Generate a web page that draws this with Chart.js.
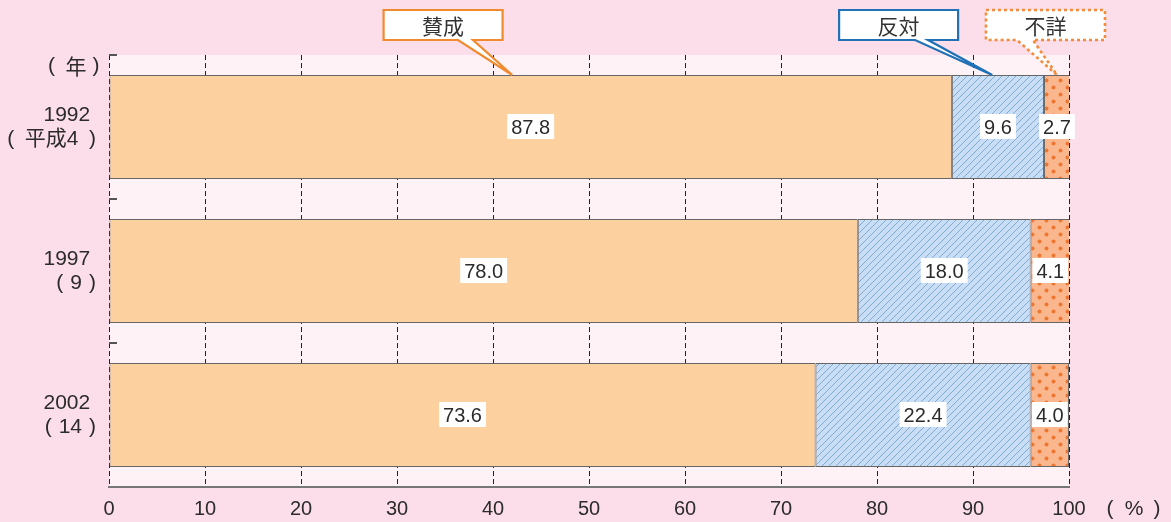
<!DOCTYPE html>
<html>
<head>
<meta charset="utf-8">
<script src="https://cdn.jsdelivr.net/npm/chart.js@4/dist/chart.umd.min.js"></script>
<style>
  html, body { margin: 0; padding: 0; background: #FCDEEA; }
  #wrap { width: 1171px; height: 522px; }
</style>
</head>
<body>
<div id="wrap"><canvas id="c" width="1171" height="522"></canvas></div>
<script>
// Survey years (Western year + Japanese era year)
const years = ['1992', '1997', '2002'];
const eraYears = ['(\u2002平成4\u2002)', '(\u20049\u2004)', '(\u200414\u2004)'];
// Share of answers (%)
const approve = [87.8, 78.0, 73.6];   // 賛成
const oppose = [9.6, 18.0, 22.4];     // 反対
const unknown = [2.7, 4.1, 4.0];      // 不詳
const xTicks = [0, 10, 20, 30, 40, 50, 60, 70, 80, 90, 100];
const seriesNames = ['賛成', '反対', '不詳'];

const FONT_NUM = '"Liberation Sans", Arial, "Noto Sans CJK JP", sans-serif';
const FONT_JP = '"Noto Sans CJK JP", "Noto Sans", sans-serif';
const TEXT = '#2b2b2b';

function hatchPattern() {
  const s = 7;
  const c = document.createElement('canvas');
  c.width = s; c.height = s;
  const g = c.getContext('2d');
  g.fillStyle = '#C9DEF4';
  g.fillRect(0, 0, s, s);
  g.strokeStyle = '#7EACDA';
  g.lineWidth = 1;
  g.beginPath();
  g.moveTo(-1, s + 1); g.lineTo(s + 1, -1);
  g.moveTo(-1, 1); g.lineTo(1, -1);
  g.moveTo(s - 1, s + 1); g.lineTo(s + 1, s - 1);
  g.stroke();
  return g.createPattern(c, 'repeat');
}

function dotPattern() {
  const s = 14;
  const c = document.createElement('canvas');
  c.width = s; c.height = s;
  const g = c.getContext('2d');
  g.fillStyle = '#FAB68D';
  g.fillRect(0, 0, s, s);
  g.fillStyle = '#EF7630';
  [[3.5, 3.5], [10.5, 10.5]].forEach(([x, y]) => {
    g.beginPath(); g.arc(x, y, 2, 0, Math.PI * 2); g.fill();
  });
  return g.createPattern(c, 'repeat');
}

// Light panel behind the plotting area
const panelBg = {
  id: 'panelBg',
  beforeDraw(chart) {
    const { ctx, chartArea: a } = chart;
    ctx.save();
    ctx.fillStyle = '#FEF2F6';
    ctx.fillRect(a.left, a.top, a.right - a.left, a.bottom - a.top);
    ctx.restore();
  }
};

// Draws a caption as spaced-out pieces centred at the given offsets
function spaced(ctx, parts, x0, y) {
  parts.forEach(([t, dx]) => ctx.fillText(t, x0 + dx, y));
}

// Short marks on the category axis between year groups, plus unit captions
const axisExtras = {
  id: 'axisExtras',
  afterDraw(chart) {
    const { ctx, chartArea: a, scales } = chart;
    const y = scales.y;
    const half = (y.getPixelForValue(1) - y.getPixelForValue(0)) / 2;
    ctx.save();
    ctx.strokeStyle = '#555';
    ctx.lineWidth = 2;
    for (let i = 0; i < years.length; i++) {
      const yy = Math.round(y.getPixelForValue(i) - half);
      ctx.beginPath();
      ctx.moveTo(a.left, yy); ctx.lineTo(a.left + 8, yy);
      ctx.stroke();
    }
    ctx.fillStyle = TEXT;
    ctx.textBaseline = 'middle';
    ctx.textAlign = 'center';
    ctx.font = '21px ' + FONT_NUM;
    spaced(ctx, [['(', -57.5], [')', -13]], a.left, a.top + 11);
    spaced(ctx, [['(', 41], ['%', 65], [')', 88]], a.right, a.bottom + 22);
    ctx.font = '21px ' + FONT_JP;
    spaced(ctx, [['年', -33]], a.left, a.top + 11);
    ctx.restore();
  }
};

// Value labels on white boxes at the middle of each segment
const valueLabels = {
  id: 'valueLabels',
  afterDatasetsDraw(chart) {
    const { ctx } = chart;
    ctx.save();
    ctx.font = '20px ' + FONT_NUM;
    ctx.textAlign = 'center';
    ctx.textBaseline = 'middle';
    chart.data.datasets.forEach((ds, di) => {
      chart.getDatasetMeta(di).data.forEach((bar, i) => {
        const txt = ds.data[i].toFixed(1);
        const cx = (bar.x + bar.base) / 2;
        const w = ctx.measureText(txt).width + 8;
        ctx.fillStyle = '#fff';
        ctx.fillRect(cx - w / 2, bar.y - 13, w, 25);
        ctx.fillStyle = TEXT;
        ctx.fillText(txt, cx, bar.y + 1);
      });
    });
    ctx.restore();
  }
};

// Series callouts above the first bar; box centre, pointer base offsets and tip in axis units
const callouts = [
  { name: seriesNames[0], center: 34.8, base: [15, 30], tip: 42.0, color: '#EF8A2E', dotted: false },
  { name: seriesNames[1], center: 82.25, base: [16.5, 29.5], tip: 92.0, color: '#2071B6', dotted: false },
  { name: seriesNames[2], center: 97.55, base: [-28.5, -12.5], tip: 98.75, color: '#F28C3A', dotted: true }
];
const calloutLabels = {
  id: 'calloutLabels',
  afterDraw(chart) {
    const { ctx, chartArea: a, scales } = chart;
    const bar = chart.getDatasetMeta(0).data[0];
    const tipY = bar.y - bar.height / 2;
    const bw = 119, bh = 30;
    const bottom = a.top - 15, top = bottom - bh;
    ctx.save();
    callouts.forEach(c => {
      const cx = scales.x.getPixelForValue(c.center);
      const tx = scales.x.getPixelForValue(c.tip);
      const l = cx - bw / 2, r = cx + bw / 2;
      const b0 = cx + c.base[0], b1 = cx + c.base[1];
      ctx.beginPath();
      ctx.moveTo(l, top); ctx.lineTo(r, top); ctx.lineTo(r, bottom);
      ctx.lineTo(b1, bottom); ctx.lineTo(tx, tipY); ctx.lineTo(b0, bottom);
      ctx.lineTo(l, bottom); ctx.closePath();
      ctx.fillStyle = '#fff';
      ctx.fill();
      ctx.strokeStyle = c.color;
      ctx.lineWidth = 2.2;
      ctx.lineJoin = 'miter';
      if (c.dotted) {
        ctx.setLineDash([3, 3]);
        ctx.lineWidth = 2.6;
      } else {
        ctx.setLineDash([]);
      }
      ctx.stroke();
      ctx.setLineDash([]);
      ctx.fillStyle = '#333';
      ctx.font = '21px ' + FONT_JP;
      ctx.textAlign = 'center';
      ctx.textBaseline = 'middle';
      ctx.fillText(c.name, cx, (top + bottom) / 2 + 1);
    });
    ctx.restore();
  }
};

const barPct = 104 / 144;
const common = { borderColor: '#666', borderWidth: 1, borderSkipped: false, barPercentage: barPct, categoryPercentage: 1 };

new Chart(document.getElementById('c'), {
  type: 'bar',
  data: {
    labels: years.map((y, i) => [y + ' ', eraYears[i]]),
    datasets: [
      Object.assign({ label: seriesNames[0], data: approve, backgroundColor: '#FDD09F' }, common),
      Object.assign({ label: seriesNames[1], data: oppose, backgroundColor: hatchPattern() }, common),
      Object.assign({ label: seriesNames[2], data: unknown, backgroundColor: dotPattern() }, common)
    ]
  },
  options: {
    indexAxis: 'y',
    responsive: false,
    animation: false,
    devicePixelRatio: 1,
    layout: { padding: { top: 55, right: 102, left: 0, bottom: 0 } },
    plugins: { legend: { display: false }, tooltip: { enabled: false } },
    scales: {
      x: {
        stacked: true,
        min: 0, max: 100,
        afterBuildTicks(s) { s.ticks = xTicks.map(v => ({ value: v })); },
        afterFit(s) { s.height = 35; },
        grid: { color: '#222', lineWidth: 1, drawTicks: false },
        // dash pattern applies to the vertical grid lines; the bottom border stays solid
        border: { display: true, color: '#777', width: 2, dash: [5, 3] },
        ticks: { color: TEXT, font: { family: FONT_NUM, size: 20 }, padding: 10, maxRotation: 0, autoSkip: false }
      },
      y: {
        stacked: true,
        afterFit(s) { s.width = 109; },
        grid: { display: false },
        border: { display: false },
        ticks: {
          color: TEXT,
          font: { family: FONT_NUM, size: 21, lineHeight: 1.15 },
          padding: 5
        }
      }
    }
  },
  plugins: [panelBg, valueLabels, axisExtras, calloutLabels]
});
</script>
</body>
</html>
